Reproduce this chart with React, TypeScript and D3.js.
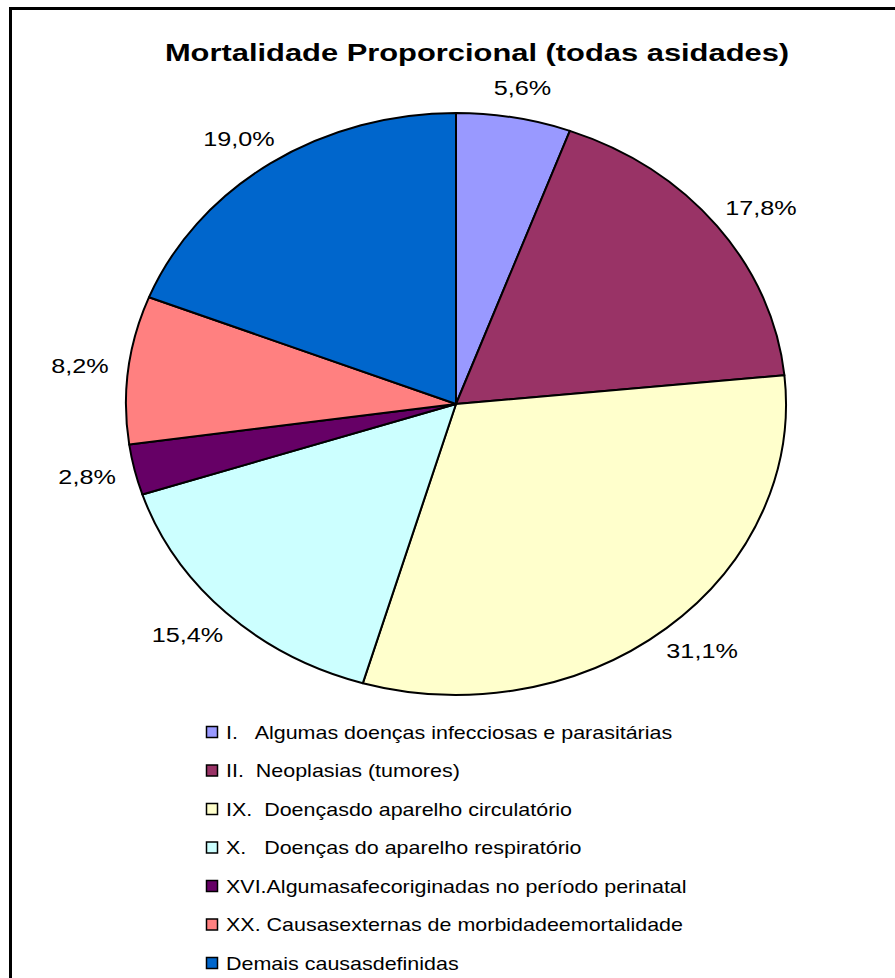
import * as d3 from "d3";
import React, { useEffect, useRef } from "react";

const title = "Mortalidade Proporcional (todas asidades)";

const categories = [
  "I.   Algumas doenças infecciosas e parasitárias",
  "II.  Neoplasias (tumores)",
  "IX.  Doençasdo aparelho circulatório",
  "X.   Doenças do aparelho respiratório",
  "XVI.Algumasafecoriginadas no período perinatal",
  "XX. Causasexternas de morbidadeemortalidade",
  "Demais causasdefinidas",
];

const percents = [5.6, 17.8, 31.1, 15.4, 2.8, 8.2, 19.0];

const colors = ["#9999FF", "#993366", "#FFFFCC", "#CCFFFF", "#660066", "#FF8080", "#0066CC"];

export default function App() {
  const svgRef = useRef<SVGSVGElement | null>(null);

  useEffect(() => {
    const width = 895;
    const height = 978;
    const svg = d3.select(svgRef.current);
    svg.selectAll("*").remove();

    svg.attr("width", width).attr("height", height);

    // frame (runs off the right / bottom edge in the reference)
    svg.append("rect")
      .attr("x", 10.5)
      .attr("y", 8.5)
      .attr("width", 1000)
      .attr("height", 1000)
      .attr("fill", "white")
      .attr("stroke", "black")
      .attr("stroke-width", 3);

    svg.append("text")
      .attr("transform", "translate(477,61) scale(1.26,1)")
      .attr("text-anchor", "middle")
      .attr("font-family", "Liberation Sans, Arial, sans-serif")
      .attr("font-weight", "bold")
      .attr("font-size", 24.5)
      .text(title);

    const cx = 456;
    const cy = 404;
    const rx = 330;
    const ry = 291;

    const pie = d3.pie<number>().sort(null).value(d => d);
    const arcs = pie(percents);
    const arc = d3.arc<d3.PieArcDatum<number>>().innerRadius(0).outerRadius(ry);

    const g = svg.append("g")
      .attr("transform", `translate(${cx},${cy}) scale(${rx / ry},1)`);

    g.selectAll("path")
      .data(arcs)
      .enter().append("path")
      .attr("d", arc)
      .attr("fill", (d, i) => colors[i])
      .attr("stroke", "black")
      .attr("stroke-width", 2)
      .attr("vector-effect", "non-scaling-stroke")
      .attr("stroke-linejoin", "round");

    // percentage labels, box pushed outside the ellipse edge
    const gap = 20;
    const labels = svg.append("g")
      .selectAll("text")
      .data(arcs)
      .enter().append("text")
      .attr("text-anchor", "middle")
      .attr("dominant-baseline", "central")
      .attr("font-family", "Liberation Sans, Arial, sans-serif")
      .attr("font-size", 21)
      .text(d => d.data.toFixed(1).replace(".", ",") + "%");

    labels.attr("transform", function (d) {
      const w = (this as SVGTextElement).getComputedTextLength() * 1.2;
      const h = 20;
      const a = (d.startAngle + d.endAngle) / 2;
      const s = Math.sin(a);
      const c = Math.cos(a);
      const x = cx + s * (rx + gap + w / 2);
      const y = cy - c * (ry + gap + h / 2);
      return `translate(${x},${y}) scale(1.2,1)`;
    });

    // legend
    const legendY = d3.scalePoint<string>()
      .domain(categories)
      .range([732, 963]);

    const leg = svg.append("g")
      .selectAll("g")
      .data(categories)
      .enter().append("g")
      .attr("transform", d => `translate(206,${legendY(d)})`);

    leg.append("rect")
      .attr("x", 0.5)
      .attr("y", -5.5)
      .attr("width", 11)
      .attr("height", 11)
      .attr("fill", (d, i) => colors[i])
      .attr("stroke", "black")
      .attr("stroke-width", 1.5);

    leg.append("text")
      .attr("transform", "translate(20,0) scale(1.13,1)")
      .attr("dominant-baseline", "central")
      .attr("font-family", "Liberation Sans, Arial, sans-serif")
      .attr("font-size", 19)
      .style("white-space", "pre")
      .text(d => d);
  }, []);

  return <svg ref={svgRef} style={{ position: "absolute", left: 0, top: 0, display: "block" }} />;
}
